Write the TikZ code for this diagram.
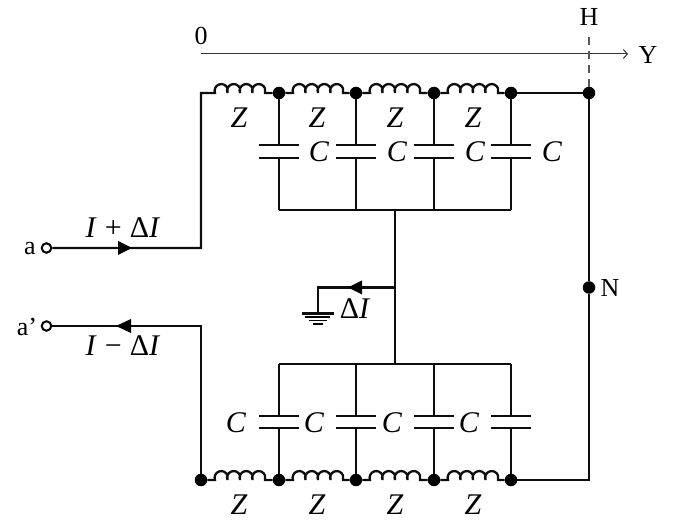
\documentclass[tikz,border=0pt]{standalone}
\usepackage{fontspec}
\setmainfont{Liberation Serif}
\usetikzlibrary{calc,arrows.meta}
\tikzset{
  x=1pt,y=-1pt,
  wire/.style={line width=2.3pt,color=black!95},
  jdot/.style={circle,fill=black,inner sep=0pt,minimum size=12.5pt},
  term/.style={circle,draw=black,fill=white,line width=2pt,inner sep=0pt,minimum size=9.5pt},
  lbl/.style={inner sep=0pt,font=\fontsize{26}{26}\selectfont},
  mlbl/.style={inner sep=0pt,font=\fontsize{30}{30}\selectfont},
  coil/.style={to path={
    -- ++(14,0)
    arc[start angle=-200,end angle=20,radius=6.65]
    arc[start angle=-200,end angle=20,radius=6.65]
    arc[start angle=-200,end angle=20,radius=6.65]
    arc[start angle=-200,end angle=20,radius=6.65]
    -- (\tikztotarget)}},
  capacitor/.style={to path={
    let \p1=($(\tikztostart)!0.5!(\tikztotarget)$) in
    (\tikztostart) -- (\x1,\y1+6.3)
    (\x1-20,\y1+6.3) -- (\x1+20,\y1+6.3)
    (\x1-20,\y1-6.3) -- (\x1+20,\y1-6.3)
    (\x1,\y1-6.3) -- (\tikztotarget)}},
}
\begin{document}
\begin{tikzpicture}
\useasboundingbox (0,0) rectangle (675,526);
% junctions
\foreach \n/\xx in {t1/279,t2/356,t3/434,t4/511,t5/589}
  \node[jdot] (\n) at (\xx,93) {};
\foreach \n/\xx in {b0/201,b1/279,b2/356,b3/434,b4/511}
  \node[jdot] (\n) at (\xx,480) {};
\foreach \n/\xx in {u1/279,u2/356,u3/434,u4/511}
  \coordinate (\n) at (\xx,210);
\foreach \n/\xx in {l1/279,l2/356,l3/434,l4/511}
  \coordinate (\n) at (\xx,364);
\coordinate (tl) at (201,93);
\coordinate (cu) at (395,210);
\coordinate (cl) at (395,364);
\coordinate (cg) at (395,287.5);
\coordinate (gc) at (318,287.5);
\coordinate (g0) at (318,313);
\coordinate (brc) at (589,480);
\coordinate (ainner) at (201,248);
\coordinate (apinner) at (201,326);
\coordinate (hend) at (589,36);
\coordinate (ax0) at (201,54);
\coordinate (ax1) at (628,54);
\node[jdot] (nn) at (589,287.5) {};
\node[term] (a) at (46.5,248) {};
\node[term] (ap) at (46.5,326) {};
% axis
\draw[line width=1pt,black!80,-{Straight Barb[length=4pt,width=9pt,line width=1pt]}] (ax0) -- (ax1);
\draw[line width=1.5pt,black!65,dash pattern=on 8pt off 6pt] (t5) -- (hend);
% top and bottom lines
\draw[wire] (a) -- (ainner) -- (tl) to[coil] (t1);
\draw[wire] (t1) to[coil] (t2);
\draw[wire] (t2) to[coil] (t3);
\draw[wire] (t3) to[coil] (t4);
\draw[wire] (t4) -- (t5) -- (nn) -- (brc) -- (b4);
\draw[wire] (ap) -- (apinner) -- (b0);
\draw[wire] (b0) to[coil] (b1);
\draw[wire] (b1) to[coil] (b2);
\draw[wire] (b2) to[coil] (b3);
\draw[wire] (b3) to[coil] (b4);
% capacitors
\foreach \i in {1,2,3,4} {
  \draw[wire] (t\i) to[capacitor] (u\i);
  \draw[wire] (l\i) to[capacitor] (b\i);
}
\draw[wire] (u1) -- (u4);
\draw[wire] (l1) -- (l4);
\draw[wire] (cu) -- (cl);
\draw[wire] (cg) -- (gc) -- (g0);
% ground
\draw[wire] (302,313.5) -- (334,313.5);
\draw[line width=1.7pt] (305,317) -- (330,317);
\draw[line width=1.7pt] (309,320.5) -- (327,320.5);
\draw[line width=1.7pt] (313,324) -- (323,324);
% arrowheads
\fill (132,248) -- (118,241) -- (118,255) -- cycle;
\fill (116,326) -- (131,319) -- (131,333) -- cycle;
\fill (348,287.5) -- (362,280.5) -- (362,294.5) -- cycle;
% labels
\foreach \n/\xx in {za/239,zb/317,zc/395,zd/473}
  \node[mlbl] (\n) at (\xx,118) {\textit{Z}};
\foreach \n/\xx in {ze/239,zf/317,zg/395,zh/473}
  \node[mlbl] (\n) at (\xx,505) {\textit{Z}};
\foreach \n/\xx in {ca/319,cb/397,cc/475,cd/552}
  \node[mlbl] (\n) at (\xx,152) {\textit{C}};
\foreach \n/\xx in {ce/236,cf/314,cg2/392,ch/469}
  \node[mlbl] (\n) at (\xx,423) {\textit{C}};
\node[mlbl] (ipd) at (123,228) {\textit{I}\hspace{8pt}+\hspace{8pt}Δ\textit{I}};
\node[mlbl] (imd) at (123,346) {\textit{I}\hspace{8pt}−\hspace{8pt}Δ\textit{I}};
\node[mlbl] (di) at (355,309) {Δ\textit{I}};
\node[lbl] (la) at (30,249) {a};
\node[lbl] (lap) at (27,327) {a’};
\node[lbl] (lh) at (589,17) {H};
\node[lbl] (l0) at (201,36) {0};
\node[lbl] (ly) at (648,55) {Y};
\node[lbl] (ln) at (610,288) {N};
\end{tikzpicture}
\end{document}
